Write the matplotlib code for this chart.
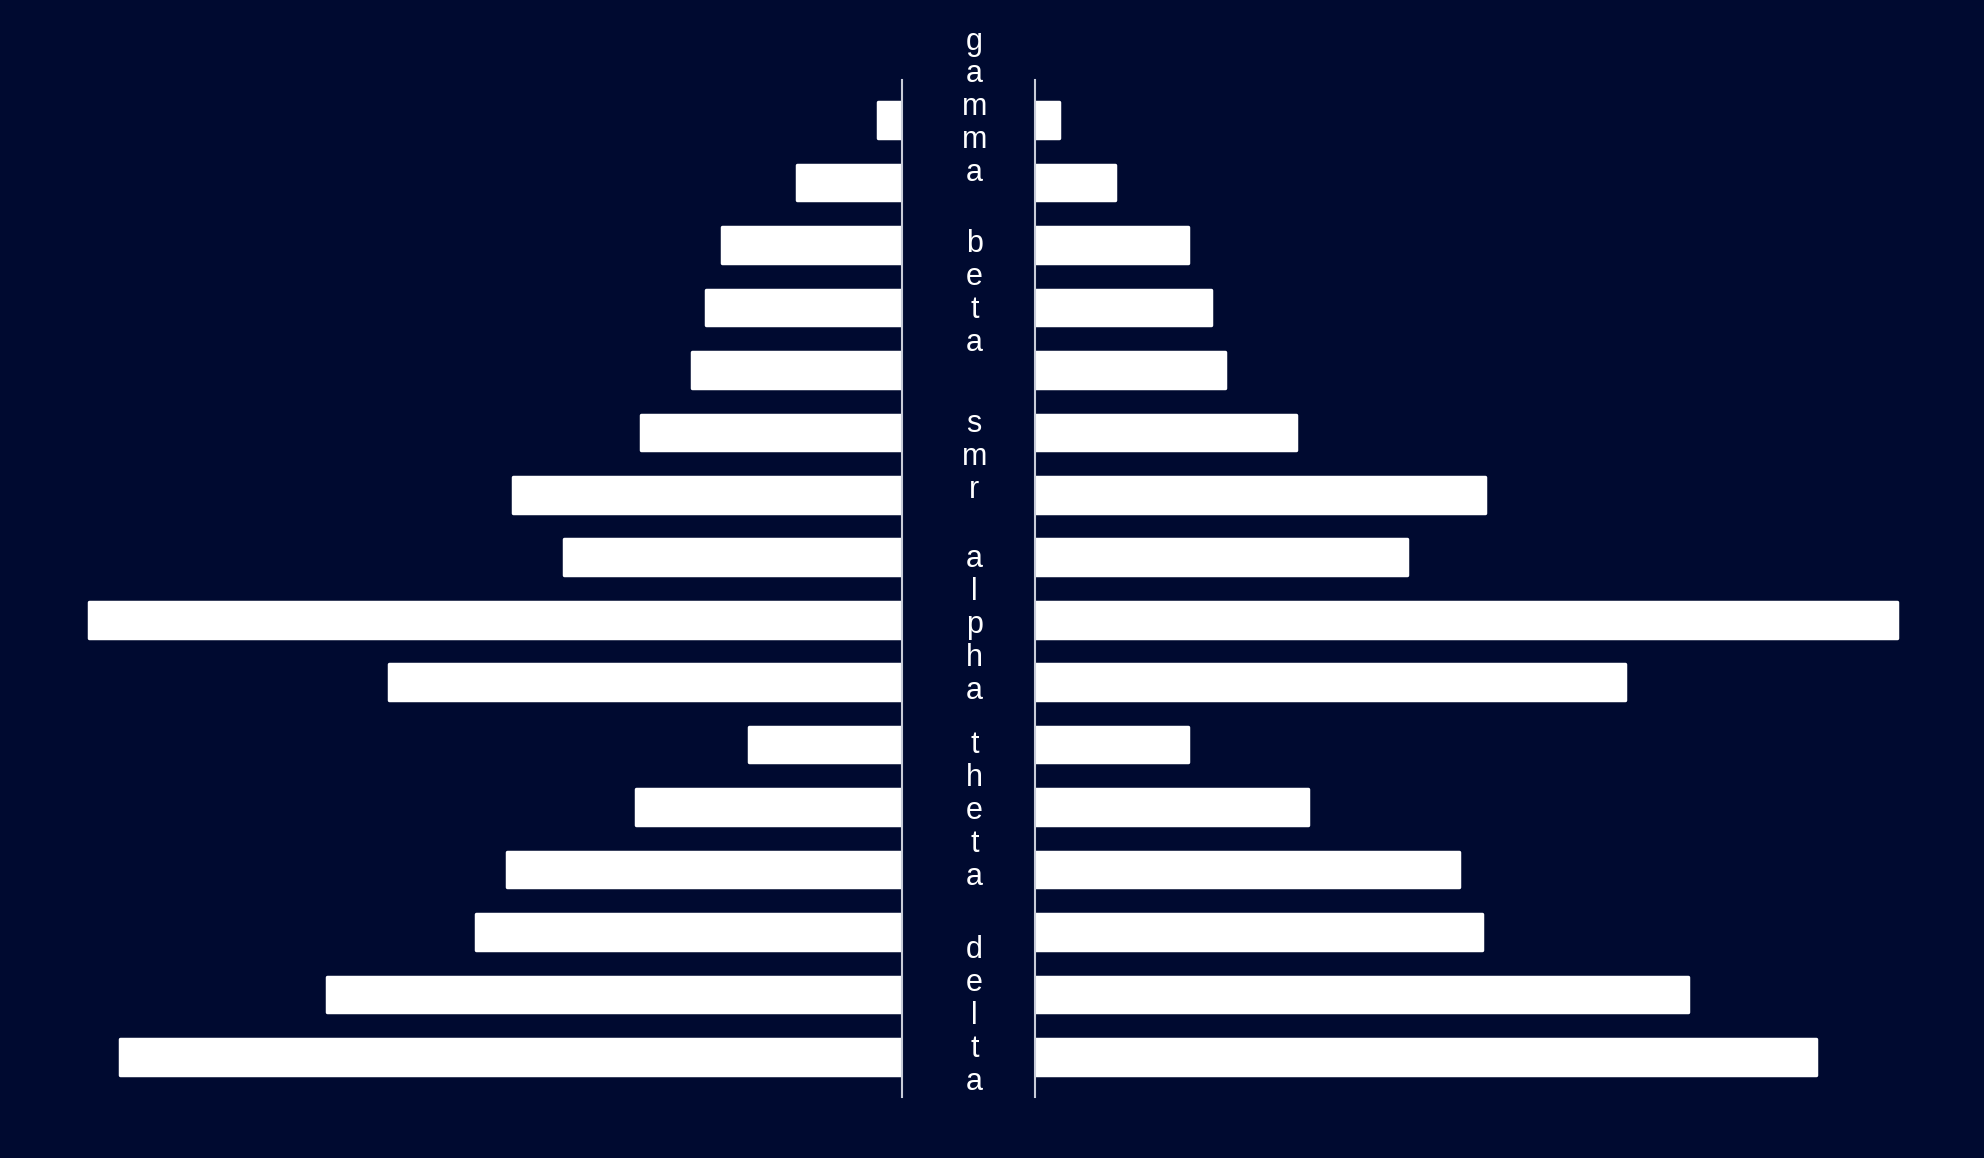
import numpy as np
from matplotlib import pyplot as plt

BG = '#000a30'
BAR = '#ffffff'
SPINE = '#c8ccd8'

bands = ['gamma', 'beta', 'smr', 'alpha', 'theta', 'delta']
band_rows = [2, 3, 2, 3, 3, 3]

left_vals = [19, 83, 142, 155, 166, 206, 307, 267, 642, 405,
             121, 210, 312, 336, 454, 617]
right_vals = [19, 63, 121, 139, 150, 206, 356, 294, 681, 466,
              121, 216, 335, 353, 516, 617]

n = len(left_vals)
rows = np.arange(n)

fig = plt.figure(figsize=(19.84, 11.58), dpi=100, facecolor=BG)

bottom, height = 61 / 1158, 1017 / 1158
ax_l = fig.add_axes([0, bottom, 902 / 1984, height])
ax_r = fig.add_axes([1035 / 1984, bottom, 949 / 1984, height])

for ax, vals in ((ax_l, left_vals), (ax_r, right_vals)):
    ax.set_facecolor(BG)
    bars = ax.barh(rows, vals, height=0.57, color=BAR, edgecolor=BAR,
                   linewidth=2.5, zorder=2)
    for b in bars:
        b.set_joinstyle('round')
    ax.set_ylim(n - 1 + 0.64, -0.64)
    ax.set_xticks([])
    ax.set_yticks([])
    for s in ax.spines.values():
        s.set_visible(False)

ax_l.set_xlim(712, 0)
ax_r.set_xlim(0, 750)
ax_l.spines['right'].set_visible(True)
ax_l.spines['right'].set_color(SPINE)
ax_l.spines['right'].set_linewidth(1.5)
ax_r.spines['left'].set_visible(True)
ax_r.spines['left'].set_color(SPINE)
ax_r.spines['left'].set_linewidth(1.5)

# vertical band labels between the two panels
shift = {'gamma': -0.7, 'beta': -0.22, 'smr': -0.1, 'alpha': 0.08,
         'theta': 0.06, 'delta': 0.35}
start = 0
for name, k in zip(bands, band_rows):
    yc = start + (k - 1) / 2 + shift.get(name, 0)
    ax_r.text(-0.064, yc, '\n'.join(name), transform=ax_r.get_yaxis_transform(),
              ha='center', va='center', color='white', fontsize=22,
              family=['Liberation Sans', 'DejaVu Sans'], linespacing=1.13,
              multialignment='center', clip_on=False)
    start += k

fig.savefig('out.png', dpi=100, facecolor=BG)
